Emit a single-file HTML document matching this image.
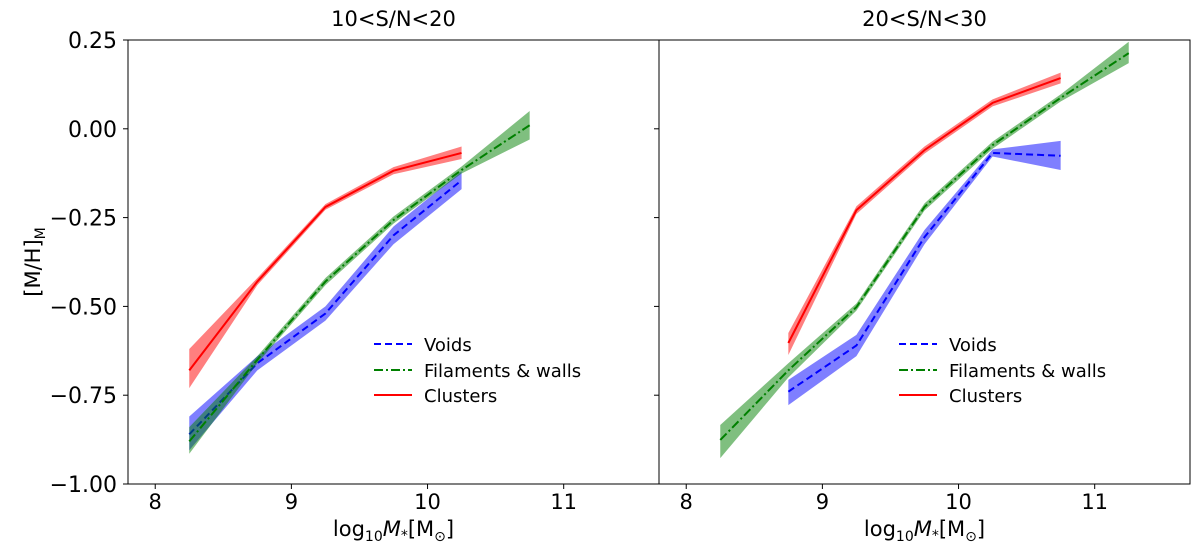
<!DOCTYPE html>
<html><head><meta charset="utf-8">
<style>
html,body{margin:0;padding:0;background:#fff;}
svg{display:block;font-family:"DejaVu Sans","Liberation Sans",sans-serif;}
</style></head>
<body>
<svg id="chart" width="1200" height="557" viewBox="0 0 1200 557" xmlns="http://www.w3.org/2000/svg"></svg>
<script>
// ---- data ----
const xTicks = [8, 9, 10, 11];
const yTicks = [0.25, 0, -0.25, -0.5, -0.75, -1.0];
const yTickLabels = ["0.25", "0.00", "\u22120.25", "\u22120.50", "\u22120.75", "\u22121.00"];
const panelTitles = ["10<S/N<20", "20<S/N<30"];

// Panel 1 (10<S/N<20)
const p1VoidsX = [8.25, 8.75, 9.25, 9.75, 10.25];
const p1VoidsY = [-0.86, -0.66, -0.52, -0.30, -0.145];
const p1VoidsLo = [-0.905, -0.68, -0.54, -0.325, -0.17];
const p1VoidsHi = [-0.81, -0.64, -0.50, -0.275, -0.12];
const p1FilX = [8.25, 8.75, 9.25, 9.75, 10.25, 10.75];
const p1FilY = [-0.88, -0.65, -0.43, -0.257, -0.116, 0.01];
const p1FilLo = [-0.915, -0.66, -0.44, -0.267, -0.126, -0.03];
const p1FilHi = [-0.84, -0.64, -0.42, -0.247, -0.106, 0.05];
const p1CluX = [8.25, 8.75, 9.25, 9.75, 10.25];
const p1CluY = [-0.68, -0.43, -0.22, -0.118, -0.068];
const p1CluLo = [-0.73, -0.44, -0.228, -0.128, -0.085];
const p1CluHi = [-0.62, -0.42, -0.212, -0.108, -0.05];

// Panel 2 (20<S/N<30)
const p2VoidsX = [8.75, 9.25, 9.75, 10.25, 10.75];
const p2VoidsY = [-0.74, -0.61, -0.305, -0.068, -0.076];
const p2VoidsLo = [-0.778, -0.64, -0.325, -0.078, -0.116];
const p2VoidsHi = [-0.707, -0.58, -0.285, -0.058, -0.034];
const p2FilX = [8.25, 8.75, 9.25, 9.75, 10.25, 10.75, 11.25];
const p2FilY = [-0.876, -0.68, -0.502, -0.22, -0.046, 0.087, 0.213];
const p2FilLo = [-0.927, -0.70, -0.512, -0.23, -0.056, 0.077, 0.185];
const p2FilHi = [-0.834, -0.66, -0.492, -0.21, -0.036, 0.097, 0.245];
const p2CluX = [8.75, 9.25, 9.75, 10.25, 10.75];
const p2CluY = [-0.603, -0.229, -0.06, 0.073, 0.143];
const p2CluLo = [-0.637, -0.24, -0.07, 0.063, 0.128];
const p2CluHi = [-0.575, -0.218, -0.05, 0.083, 0.158];

const legendLabels = ["Voids", "Filaments & walls", "Clusters"];

// ---- layout ----
const NS = "http://www.w3.org/2000/svg";
const svg = document.getElementById("chart");
const panels = [{x0:128, x1:659}, {x0:659, x1:1190}];
const yTop = 40, yBot = 484;
const xMin = 7.8, xMax = 11.7, yMin = -1.0, yMax = 0.25;
function sx(p, v){ return p.x0 + (v - xMin) / (xMax - xMin) * (p.x1 - p.x0); }
function sy(v){ return yBot - (v - yMin) / (yMax - yMin) * (yBot - yTop); }
function mk(tag, attrs, parent){
  const e = document.createElementNS(NS, tag);
  for (const k in attrs) e.setAttribute(k, attrs[k]);
  (parent || svg).appendChild(e);
  return e;
}

const seriesSets = [
  [
    {x:p1VoidsX,y:p1VoidsY,lo:p1VoidsLo,hi:p1VoidsHi,c:"#0000ff",dash:"7,4",name:"voids"},
    {x:p1FilX,y:p1FilY,lo:p1FilLo,hi:p1FilHi,c:"#008000",dash:"9,3,2,3",name:"filaments"},
    {x:p1CluX,y:p1CluY,lo:p1CluLo,hi:p1CluHi,c:"#ff0000",dash:"",name:"clusters"}
  ],
  [
    {x:p2VoidsX,y:p2VoidsY,lo:p2VoidsLo,hi:p2VoidsHi,c:"#0000ff",dash:"7,4",name:"voids"},
    {x:p2FilX,y:p2FilY,lo:p2FilLo,hi:p2FilHi,c:"#008000",dash:"9,3,2,3",name:"filaments"},
    {x:p2CluX,y:p2CluY,lo:p2CluLo,hi:p2CluHi,c:"#ff0000",dash:"",name:"clusters"}
  ]
];

panels.forEach((p, pi) => {
  const g = mk("g", {});
  
  
  const cp = mk("clipPath", {id:"clip" + pi}, g);
  mk("rect", {x:p.x0, y:yTop, width:p.x1 - p.x0, height:yBot - yTop}, cp);
  const plot = mk("g", {"clip-path":"url(#clip" + pi + ")"}, g);

  seriesSets[pi].forEach(s => {
    let d = "";
    s.x.forEach((xv, i) => { d += (i ? "L" : "M") + sx(p, xv) + "," + sy(s.hi[i]); });
    for (let i = s.x.length - 1; i >= 0; i--) d += "L" + sx(p, s.x[i]) + "," + sy(s.lo[i]);
    d += "Z";
    const band = mk("path", {d:d, fill:s.c, "fill-opacity":0.5, stroke:"none"}, plot);
    
    
    const pts = s.x.map((xv, i) => sx(p, xv) + "," + sy(s.y[i])).join(" ");
    const line = mk("polyline", {points:pts, fill:"none", stroke:s.c, "stroke-width":2, "stroke-dasharray":s.dash}, plot);
    
    
  });

  mk("rect", {x:p.x0, y:yTop, width:p.x1 - p.x0, height:yBot - yTop, fill:"none", stroke:"#000", "stroke-width":1}, g);

  xTicks.forEach(t => {
    const X = sx(p, t);
    mk("line", {x1:X, x2:X, y1:yBot, y2:yBot + 5, stroke:"#000"}, g);
    const lb = mk("text", {x:X, y:yBot + 25, "text-anchor":"middle", "font-size":21}, g);
    lb.textContent = String(t);
    
    
  });
  yTicks.forEach((t, i) => {
    const Y = sy(t);
    mk("line", {x1:p.x0 - 5, x2:p.x0, y1:Y, y2:Y, stroke:"#000"}, g);
    if (pi === 0) {
      const lb = mk("text", {x:p.x0 - 11, y:Y + 8, "text-anchor":"end", "font-size":22}, g);
      lb.textContent = yTickLabels[i];
      
      
    }
  });
  const tt = mk("text", {x:(p.x0 + p.x1) / 2, y:26, "text-anchor":"middle", "font-size":21}, g);
  tt.textContent = panelTitles[pi];
  
  
  const xl = mk("text", {x:(p.x0 + p.x1) / 2, y:536, "text-anchor":"middle", "font-size":21}, g);
  xl.innerHTML = 'log<tspan font-size="14" dy="5">10</tspan><tspan dy="-5"><tspan font-style="italic">M</tspan></tspan><tspan font-size="14" dy="4">*</tspan><tspan dy="-4">[M</tspan><tspan font-size="14" dy="5">\u2299</tspan><tspan dy="-5">]</tspan>';
  
  

  const lx = pi === 0 ? 374 : 899;
  const lg = mk("g", {}, g);
  
  
  const cols = ["#0000ff", "#008000", "#ff0000"];
  const dashes = ["7,4", "9,3,2,3", ""];
  const lys = [344, 370, 395];
  legendLabels.forEach((lab, i) => {
    mk("line", {x1:lx, x2:lx + 38, y1:lys[i], y2:lys[i], stroke:cols[i], "stroke-width":2, "stroke-dasharray":dashes[i]}, lg);
    const te = mk("text", {x:lx + 50, y:lys[i] + 7, "font-size":18}, lg);
    te.textContent = lab;
    
    
  });
});

const yl = mk("text", {transform:"translate(40,262) rotate(-90)", "text-anchor":"middle", "font-size":21});
yl.innerHTML = '[M/H]<tspan font-size="14" dy="5">M</tspan>';


</script>
</body></html>
